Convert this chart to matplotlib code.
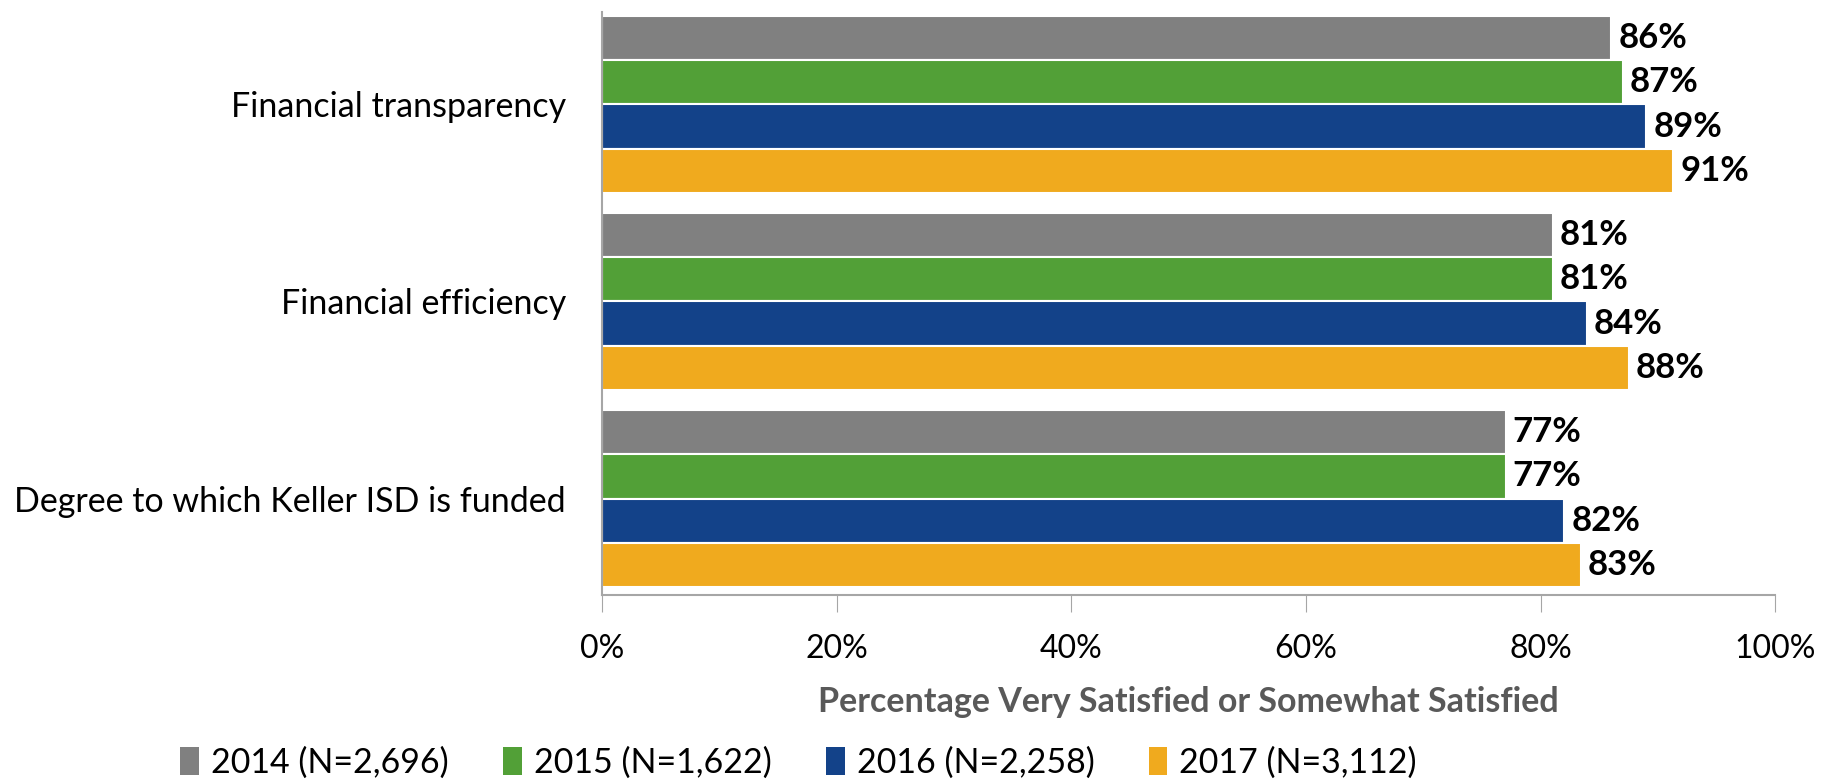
import numpy as np
import matplotlib.pyplot as plt
from matplotlib.patches import Patch

plt.rcParams['font.family'] = ['Lato', 'DejaVu Sans']

# data
categories = ['Financial transparency', 'Financial efficiency',
              'Degree to which Keller ISD is funded']
series = ['2014 (N=2,696)', '2015 (N=1,622)', '2016 (N=2,258)', '2017 (N=3,112)']
v2014 = [86.0, 81.0, 77.0]
v2015 = [87.0, 81.0, 77.0]
v2016 = [89.0, 83.9, 82.0]
v2017 = [91.3, 87.5, 83.4]
values = [v2014, v2015, v2016, v2017]
colors = ['#808080', '#52A037', '#134289', '#F0AA1E']

fig = plt.figure(figsize=(18.36, 7.82), dpi=100)
ax = fig.add_axes([0.328, 0.239, 0.639, 0.746])

y = np.arange(len(categories))
h = 0.225
for i, (vals, col) in enumerate(zip(values, colors)):
    pos = y + (i - 1.5) * h
    ax.barh(pos, vals, height=h, color=col, edgecolor='white', linewidth=1.5)
    for p, v in zip(pos, vals):
        ax.text(v + 0.6, p, f'{v:.0f}%', va='center', ha='left',
                fontsize=25, fontweight='bold', color='black')

ax.set_ylim(2.49, -0.47)
ax.set_xlim(0, 100)
ax.set_yticks(y)
ax.set_yticklabels(categories, fontsize=24.5)
ax.tick_params(axis='y', length=0, pad=26)
ax.set_xticks(np.arange(0, 101, 20))
ax.set_xticklabels([f'{t}%' for t in range(0, 101, 20)], fontsize=23)
ax.tick_params(axis='x', direction='out', length=12, color='#A6A6A6', pad=16)
ax.set_xlabel('Percentage Very Satisfied or Somewhat Satisfied', fontsize=24.5,
              fontweight='bold', color='#595959', labelpad=16)

for s in ['top', 'right']:
    ax.spines[s].set_visible(False)
ax.spines['left'].set_color('#A6A6A6')
ax.spines['bottom'].set_color('#A6A6A6')
ax.spines['left'].set_linewidth(1.5)
ax.spines['bottom'].set_linewidth(1.5)

handles = [Patch(facecolor=c) for c in colors]
fig.legend(handles, series, loc='center', bbox_to_anchor=(0.435, 0.025), ncol=4,
           frameon=False, fontsize=24.5, handlelength=0.55, handleheight=0.9,
           handletextpad=0.35, columnspacing=1.6)

plt.savefig('out.png', dpi=100)
